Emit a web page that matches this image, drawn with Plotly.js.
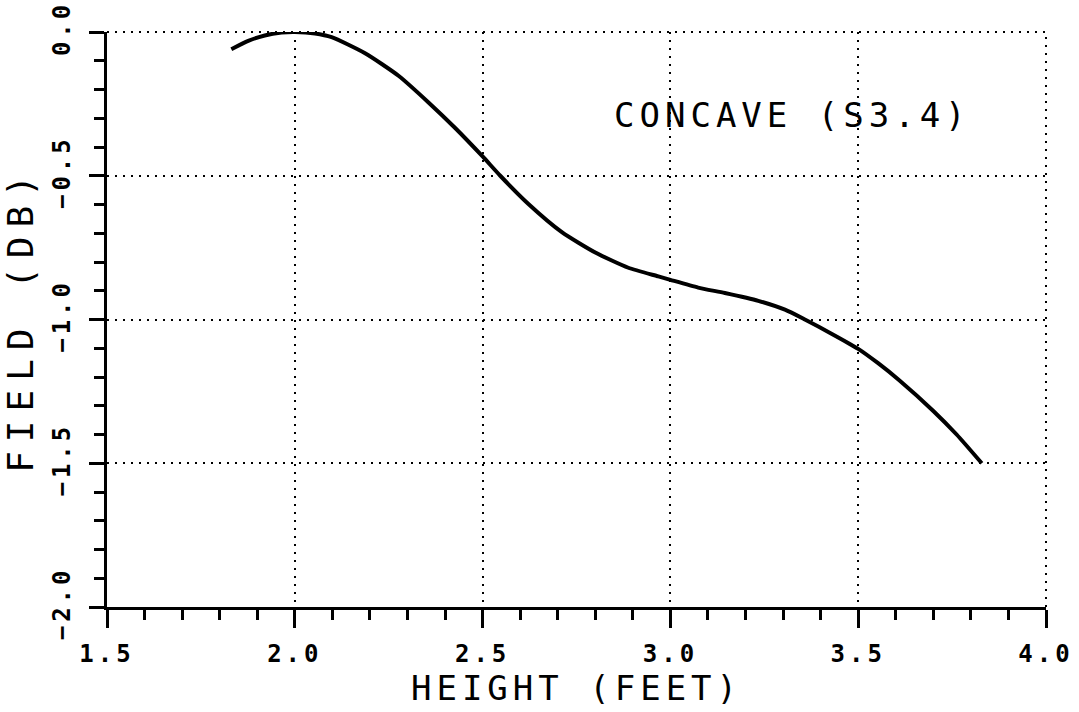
<!DOCTYPE html>
<html>
<head>
<meta charset="utf-8">
<script src="https://cdn.plot.ly/plotly-3.0.1.min.js"></script>
<style>
  html, body { margin: 0; padding: 0; background: #fff; }
  #chart { width: 1079px; height: 712px; }
  .xtick text, .ytick text { letter-spacing: 4px; }
  .g-xtitle text, .annotation-text { letter-spacing: 5px; }
  .g-ytitle text { letter-spacing: 9px; }
</style>
</head>
<body>
<div id="chart"></div>
<script>
// Curve (height in feet, field in dB)
const heightFeet = [1.831, 1.876, 1.92, 1.965, 2.0, 2.054, 2.098, 2.187, 2.277, 2.356, 2.427, 2.5, 2.547, 2.622, 2.711, 2.80, 2.888, 2.968, 3.0, 3.074, 3.145, 3.234, 3.305, 3.358, 3.43, 3.5, 3.553, 3.61, 3.70, 3.762, 3.829];
const fieldDb    = [-0.060, -0.031, -0.012, -0.002, 0.0, -0.005, -0.018, -0.074, -0.153, -0.245, -0.334, -0.433, -0.5, -0.598, -0.696, -0.767, -0.820, -0.850, -0.862, -0.889, -0.908, -0.935, -0.966, -1.0, -1.05, -1.102, -1.152, -1.212, -1.318, -1.40, -1.5];

const xRange = [1.5, 4.0];
const yRange = [-2.0, 0.0];
const labelText = 'CONCAVE (S3.4)';
const xTitle = 'HEIGHT (FEET)';
const yTitle = 'FIELD (DB)';

const FONT = 'DejaVu Sans Mono, Liberation Mono, monospace';
const dotted = '2px,6px';

const trace = {
  x: heightFeet,
  y: fieldDb,
  type: 'scatter',
  mode: 'lines',
  line: { color: '#000', width: 4, shape: 'spline', smoothing: 0.6 },
  hoverinfo: 'x+y'
};

const axisCommon = {
  showline: true,
  linecolor: '#000',
  linewidth: 3,
  ticks: 'outside',
  tickcolor: '#000',
  tickwidth: 3,
  showgrid: true,
  gridcolor: '#000',
  gridwidth: 2,
  griddash: dotted,
  zeroline: false,
  tickformat: '.1f',
  tickfont: { family: FONT, size: 24, color: '#000', weight: 'bold' }
};

const layout = {
  width: 1079,
  height: 712,
  margin: { l: 107, r: 33, t: 32, b: 105 },
  paper_bgcolor: '#fff',
  plot_bgcolor: '#fff',
  showlegend: false,
  xaxis: Object.assign({}, axisCommon, {
    range: xRange,
    tick0: 1.5,
    dtick: 0.5,
    ticklen: 18,
    ticklabelstandoff: 5,
    minor: { dtick: 0.1, ticks: 'outside', ticklen: 10, tickwidth: 3, tickcolor: '#000', showgrid: false },
    title: { text: xTitle, font: { family: FONT, size: 34, color: '#000' }, standoff: 4 }
  }),
  yaxis: Object.assign({}, axisCommon, {
    range: yRange,
    tick0: 0,
    dtick: 0.5,
    ticklen: 15,
    tickangle: -90,
    ticklabelstandoff: 9,
    minor: { dtick: 0.1, ticks: 'outside', ticklen: 10, tickwidth: 3, tickcolor: '#000', showgrid: false },
    title: { text: yTitle, font: { family: FONT, size: 36, color: '#000' }, standoff: 4 }
  }),
  shapes: [
    { type: 'line', xref: 'paper', yref: 'paper', x0: 0, x1: 1, y0: 1, y1: 1, line: { color: '#000', width: 2, dash: dotted } },
    { type: 'line', xref: 'paper', yref: 'paper', x0: 1, x1: 1, y0: 0, y1: 1, line: { color: '#000', width: 2, dash: dotted } }
  ],
  annotations: [
    { text: labelText, xref: 'x', yref: 'y', x: 2.845, y: -0.29, xanchor: 'left', yanchor: 'middle', showarrow: false,
      font: { family: FONT, size: 34, color: '#000' } }
  ]
};

Plotly.newPlot('chart', [trace], layout, { staticPlot: true, displayModeBar: false });
</script>
</body>
</html>
